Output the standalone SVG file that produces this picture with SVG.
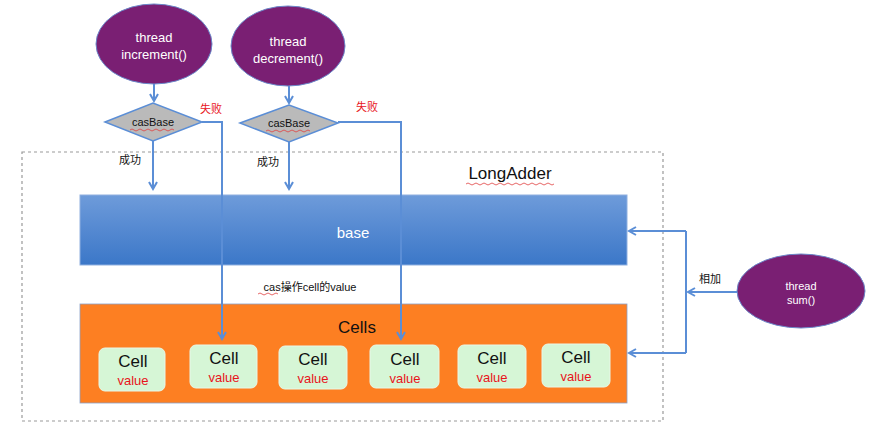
<svg xmlns="http://www.w3.org/2000/svg" width="889" height="441" viewBox="0 0 889 441">
<defs>
<linearGradient id="gBase" x1="0" y1="0" x2="0" y2="1">
<stop offset="0" stop-color="#6e9bda"/>
<stop offset="1" stop-color="#3b77c8"/>
</linearGradient>
<marker id="arr" markerWidth="10" markerHeight="10" refX="8" refY="5" orient="auto" markerUnits="userSpaceOnUse">
<path d="M1,1 L8,5 L1,9" fill="none" stroke="#5b8ed6" stroke-width="2"/>
</marker>
<style>
.t{font-family:"Liberation Sans",Arial,"Noto Sans CJK SC",sans-serif;text-anchor:middle}
.el{fill:#7a1f73;stroke:#6b87c9;stroke-width:1}
.dia{fill:#bababa;stroke:#5b8ed6;stroke-width:1.5}
.cell{fill:#d6f6d6;stroke:#e8f8e8;stroke-width:1}
.ln{fill:none;stroke:#5b8ed6;stroke-width:2}
.sq{fill:none;stroke:#e04040;stroke-width:0.8}
</style>
</defs>
<rect width="889" height="441" fill="#ffffff"/>
<rect id="longadder-box" x="22" y="152" width="641" height="269" fill="none" stroke="#999" stroke-width="1.2" stroke-dasharray="3,3"/>
<g id="longadder-label"><text class="t" x="510" y="179" font-size="17" fill="#111">LongAdder</text>
<path class="sq" d="M466,184 q2,-2 4,0 t4,0 t4,0 t4,0 t4,0 t4,0 t4,0 t4,0 t4,0 t4,0 t4,0 t4,0 t4,0 t4,0 t4,0 t4,0 t4,0 t4,0 t4,0 t4,0 t4,0 t4,0"/></g>
<g id="base"><rect x="80" y="195" width="547" height="70" fill="url(#gBase)" stroke="#8fb0e0" stroke-width="1"/>
<text class="t" x="353" y="238" font-size="15" fill="#fff">base</text></g>
<g id="cas-label"><text class="t" x="310" y="291" font-size="11" fill="#111">cas操作cell的value</text>
<path class="sq" d="M258,294 q2,-2 4,0 t4,0 t4,0 t4,0 t4,0"/></g>
<g id="cells"><rect x="80" y="304" width="547" height="99" fill="#fd7f22" stroke="#8aa0c8" stroke-width="0.8"/>
<text class="t" x="357" y="333" font-size="17" fill="#111">Cells</text></g>
<g id="cell1"><rect class="cell" x="99" y="348" width="66" height="43" rx="6"/><text class="t" x="133" y="367" font-size="17" fill="#111">Cell</text><text class="t" x="133" y="385" font-size="13" fill="#e8141c">value</text></g>
<g id="cell2"><rect class="cell" x="190" y="345" width="67" height="43" rx="6"/><text class="t" x="224" y="364" font-size="17" fill="#111">Cell</text><text class="t" x="224" y="382" font-size="13" fill="#e8141c">value</text></g>
<g id="cell3"><rect class="cell" x="279" y="346" width="68" height="43" rx="6"/><text class="t" x="313" y="365" font-size="17" fill="#111">Cell</text><text class="t" x="313" y="383" font-size="13" fill="#e8141c">value</text></g>
<g id="cell4"><rect class="cell" x="370" y="345" width="69" height="43" rx="6"/><text class="t" x="405" y="365" font-size="17" fill="#111">Cell</text><text class="t" x="405" y="383" font-size="13" fill="#e8141c">value</text></g>
<g id="cell5"><rect class="cell" x="458" y="345" width="68" height="43" rx="6"/><text class="t" x="492" y="364" font-size="17" fill="#111">Cell</text><text class="t" x="492" y="382" font-size="13" fill="#e8141c">value</text></g>
<g id="cell6"><rect class="cell" x="542" y="344" width="68" height="43" rx="6"/><text class="t" x="576" y="363" font-size="17" fill="#111">Cell</text><text class="t" x="576" y="381" font-size="13" fill="#e8141c">value</text></g>
<g id="thread-increment"><ellipse class="el" cx="154" cy="44" rx="58" ry="40"/><text class="t" x="154" y="42" font-size="13" fill="#fff">thread</text><text class="t" x="154" y="59" font-size="13" fill="#fff">increment()</text></g>
<g id="thread-decrement"><ellipse class="el" cx="288" cy="46" rx="57" ry="40"/><text class="t" x="288" y="46" font-size="13" fill="#fff">thread</text><text class="t" x="288" y="63" font-size="13" fill="#fff">decrement()</text></g>
<g id="thread-sum"><ellipse class="el" cx="801" cy="291" rx="64" ry="37"/><text class="t" x="801" y="290" font-size="11" fill="#fff">thread</text><text class="t" x="801" y="304" font-size="11" fill="#fff">sum()</text></g>
<g id="casBase-inc"><polygon class="dia" points="105,122 153,103 202,122 153,141"/><text class="t" x="153" y="126" font-size="11" fill="#111">casBase</text><path class="sq" d="M130,130 q2,-2 4,0 t4,0 t4,0 t4,0 t4,0 t4,0 t4,0 t4,0 t4,0 t4,0 t4,0"/></g>
<g id="casBase-dec"><polygon class="dia" points="240,123 289,105 338,123 289,142"/><text class="t" x="289" y="127" font-size="11" fill="#111">casBase</text><path class="sq" d="M266,131 q2,-2 4,0 t4,0 t4,0 t4,0 t4,0 t4,0 t4,0 t4,0 t4,0 t4,0 t4,0"/></g>
<g id="connectors">
<line class="ln" x1="154" y1="84" x2="154" y2="101" marker-end="url(#arr)"/>
<line class="ln" x1="289" y1="86" x2="289" y2="103" marker-end="url(#arr)"/>
<line class="ln" x1="153" y1="141" x2="153" y2="189" marker-end="url(#arr)"/>
<line class="ln" x1="289" y1="142" x2="289" y2="189" marker-end="url(#arr)"/>
<polyline class="ln" points="202,122 222,122 222,339" marker-end="url(#arr)"/>
<polyline class="ln" points="338,122 401,122 401,339" marker-end="url(#arr)"/>
<line class="ln" x1="737" y1="292" x2="688" y2="292" marker-end="url(#arr)"/>
<polyline class="ln" points="686,231 686,353"/>
<line class="ln" x1="686" y1="231" x2="629" y2="231" marker-end="url(#arr)"/>
<line class="ln" x1="686" y1="353" x2="629" y2="353" marker-end="url(#arr)"/>
<text class="t" x="211" y="113" font-size="11" fill="#e8141c">失败</text>
<text class="t" x="367" y="111" font-size="11" fill="#e8141c">失败</text>
<text class="t" x="130" y="164" font-size="11" fill="#111">成功</text>
<text class="t" x="268" y="166" font-size="11" fill="#111">成功</text>
<text class="t" x="710" y="283" font-size="11" fill="#111">相加</text>
</g>
</svg>
